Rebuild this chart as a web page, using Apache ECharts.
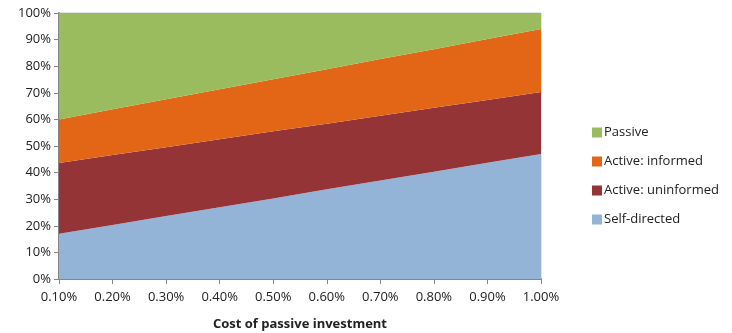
<!DOCTYPE html>
<html>
<head>
<meta charset="utf-8">
<script src="https://cdn.jsdelivr.net/npm/echarts@6/dist/echarts.min.js"></script>
<style>
  html, body { margin: 0; padding: 0; background: #fff; }
  #chart { width: 732px; height: 333px; }
</style>
</head>
<body>
<div id="chart"></div>
<script>
// cost of passive investment (x categories)
const costs = ['0.10%', '0.20%', '0.30%', '0.40%', '0.50%', '0.60%', '0.70%', '0.80%', '0.90%', '1.00%']

// share of investors in each group, % (stacked to 100)
const selfDirected = [17.0, 20.3, 23.7, 27.0, 30.3, 33.7, 37.0, 40.3, 43.7, 47.0]
const activeUninformed = [26.6, 26.3, 25.8, 25.5, 25.2, 24.7, 24.4, 24.1, 23.6, 23.3]
const activeInformed = [16.4, 17.2, 18.1, 18.8, 19.6, 20.5, 21.3, 22.0, 22.9, 23.7]
const passive = [40.0, 36.2, 32.4, 28.7, 24.9, 21.1, 17.3, 13.6, 9.8, 6.0]

const font = 'Open Sans, Noto Sans, sans-serif'
const textColor = '#222'

function area(name, data, color) {
  return {
    name: name,
    type: 'line',
    stack: 'Total',
    data: data,
    symbol: 'none',
    lineStyle: { width: 0 },
    itemStyle: { color: color },
    areaStyle: { color: color, opacity: 1 }
  }
}

const myChart = echarts.init(document.getElementById('chart'))
myChart.setOption({
  animation: false,
  textStyle: { fontFamily: font },
  grid: {
    left: 59,
    right: 191,
    top: 13,
    bottom: 54,
    outerBoundsMode: 'none',
    containLabel: false,
    show: true,
    borderColor: '#c8c8c8',
    borderWidth: 1
  },
  legend: {
    orient: 'vertical',
    left: 587,
    top: 121,
    itemWidth: 10,
    itemHeight: 10,
    itemGap: 16,
    icon: 'rect',
    textStyle: { fontFamily: font, fontSize: 13, color: textColor, padding: [0, 0, 0, -3] },
    data: ['Passive', 'Active: informed', 'Active: uninformed', 'Self-directed']
  },
  xAxis: {
    type: 'category',
    boundaryGap: false,
    data: costs,
    name: 'Cost of passive investment',
    nameLocation: 'middle',
    nameGap: 39,
    nameTextStyle: { fontFamily: font, fontSize: 13, fontWeight: 'bold', color: textColor },
    axisLine: { lineStyle: { color: '#868686', width: 2 } },
    axisTick: { show: true, length: 5, lineStyle: { color: '#868686', width: 1 } },
    axisLabel: { fontSize: 13, color: textColor, margin: 12 },
    splitLine: { show: false }
  },
  yAxis: {
    type: 'value',
    min: 0,
    max: 100,
    interval: 10,
    axisLine: { show: true, lineStyle: { color: '#868686', width: 2 } },
    axisTick: { show: true, length: 5, lineStyle: { color: '#868686', width: 1 } },
    axisLabel: { fontSize: 13, color: textColor, margin: 8, formatter: '{value}%' },
    splitLine: { show: false }
  },
  series: [
    area('Self-directed', selfDirected, '#93b3d7'),
    area('Active: uninformed', activeUninformed, '#943436'),
    area('Active: informed', activeInformed, '#e26616'),
    area('Passive', passive, '#9bbb5f')
  ]
})
</script>
</body>
</html>
